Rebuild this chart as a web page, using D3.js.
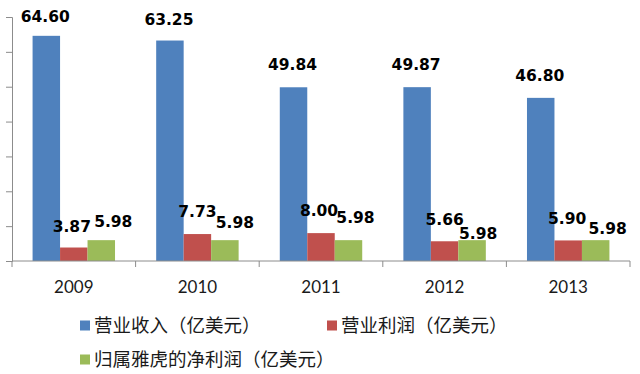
<!DOCTYPE html>
<html>
<head>
<meta charset="utf-8">
<script src="https://cdn.jsdelivr.net/npm/d3@7"></script>
<style>
  html, body { margin: 0; padding: 0; background: #fff; }
  svg { display: block; }
</style>
</head>
<body>
<svg id="chart" width="640" height="374"></svg>
<script>
// ---- data ----
const years = ["2009", "2010", "2011", "2012", "2013"];
const revenue = [64.60, 63.25, 49.84, 49.87, 46.80];
const operatingProfit = [3.87, 7.73, 8.00, 5.66, 5.90];
const netProfit = [5.98, 5.98, 5.98, 5.98, 5.98];
const seriesNames = ["营业收入（亿美元）", "营业利润（亿美元）", "归属雅虎的净利润（亿美元）"];
const yTickValues = [0, 10, 20, 30, 40, 50, 60, 70];

// ---- layout / style ----
const colors = ["#4F81BD", "#C0504D", "#9BBB59"];
// manual label nudges (dx from bar centre, dy of baseline from bar top), as in the original
const labelNudgeX = [[-1, -1, -1, -1, -1], [-2, 0, -2, 0, -1], [12, 10, 7, 6, 12]];
const labelNudgeY = [[-14, -16, -17, -17, -16.5], [-16, -17.5, -17, -16.5, -16.5], [-13, -12.5, -17, -1, -6]];

const svg = d3.select("#chart");
const x0 = d3.scaleBand().domain(years).range([12, 630]).paddingInner(0.333).paddingOuter(0.1665);
const series = [revenue, operatingProfit, netProfit];
const x1 = d3.scaleBand().domain(d3.range(series.length)).range([0, x0.bandwidth()]);
const y = d3.scaleLinear().domain([0, 70]).range([261, 17]);

// y axis
svg.append("g")
  .attr("transform", "translate(12,0)")
  .call(d3.axisLeft(y).tickValues(yTickValues).tickSize(6).tickFormat(""))
  .call(g => g.selectAll("path,line").attr("stroke", "#8c8c8c"));

// bars
series.forEach((vals, si) => {
  svg.append("g").selectAll("rect")
    .data(vals)
    .join("rect")
    .attr("x", (d, i) => x0(years[i]) + x1(si))
    .attr("y", d => y(d))
    .attr("width", x1.bandwidth())
    .attr("height", d => y(0) - y(d))
    .attr("fill", colors[si]);
});

// x axis (ticks at category boundaries)
const xa = svg.append("g").attr("transform", "translate(0,261)");
xa.append("line").attr("x1", 12).attr("x2", 630).attr("stroke", "#8c8c8c");
const step = x0.step();
d3.range(years.length + 1).forEach(i => {
  const xx = 12 + i * step;
  xa.append("line").attr("x1", xx).attr("x2", xx).attr("y1", 0).attr("y2", 6).attr("stroke", "#8c8c8c");
});
xa.selectAll("text.year")
  .data(years)
  .join("text")
  .attr("class", "year")
  .attr("x", d => x0(d) + x0.bandwidth() / 2)
  .attr("y", 32)
  .attr("text-anchor", "middle")
  .attr("font-family", "Lato, 'Open Sans', sans-serif")
  .attr("font-size", 17)
  .attr("fill", "#1a1a1a")
  .text(d => d);

// value labels
series.forEach((vals, si) => {
  svg.append("g").selectAll("text")
    .data(vals)
    .join("text")
    .attr("x", (d, i) => x0(years[i]) + x1(si) + x1.bandwidth() / 2 + labelNudgeX[si][i])
    .attr("y", (d, i) => y(d) + labelNudgeY[si][i])
    .attr("text-anchor", "middle")
    .attr("font-family", "'DejaVu Sans', sans-serif")
    .attr("font-weight", "bold")
    .attr("font-size", 15.5)
    .attr("fill", "#000")
    .text(d => d.toFixed(2));
});

// legend
const legendPos = [[80, 325], [327, 325], [80, 359]];
const lg = svg.append("g");
seriesNames.forEach((name, i) => {
  const [lx, ly] = legendPos[i];
  lg.append("rect").attr("x", lx).attr("y", ly - 4.5).attr("width", 10).attr("height", 10).attr("fill", colors[i]);
  lg.append("text")
    .attr("x", lx + 14)
    .attr("y", ly)
    .attr("dy", "0.36em")
    .attr("font-family", "'Noto Sans CJK SC', sans-serif")
    .attr("font-size", 18.5)
    .attr("fill", "#1a1a1a")
    .text(name);
});
</script>
</body>
</html>
